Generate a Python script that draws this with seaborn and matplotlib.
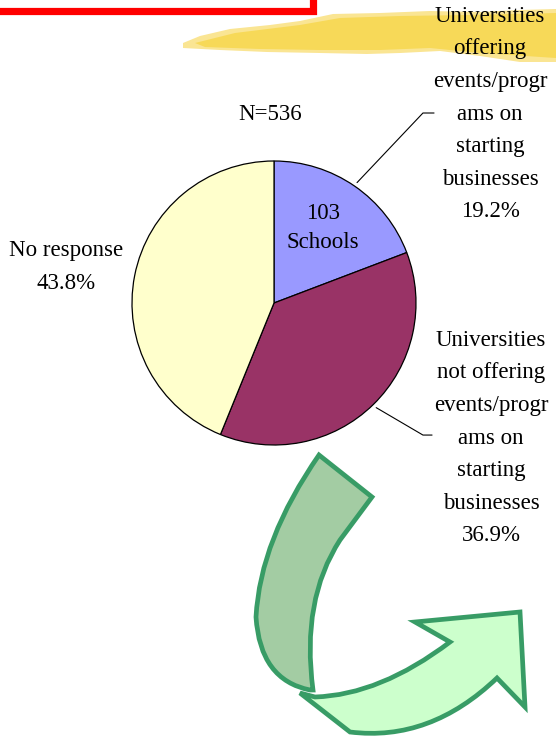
import numpy as np
import matplotlib
matplotlib.use("Agg")
import matplotlib.pyplot as plt
from matplotlib.path import Path
from matplotlib.patches import PathPatch, Polygon, Rectangle
import seaborn as sns

# Survey shares (%), clockwise from 12 o'clock
shares = [19.2, 36.9, 43.8]
share_colors = ["#9999FF", "#993366", "#FFFFCC"]
slice_labels = [
    "Universities\noffering\nevents/progr\nams on\nstarting\nbusinesses\n19.2%",
    "Universities\nnot offering\nevents/progr\nams on\nstarting\nbusinesses\n36.9%",
    "No response\n43.8%",
]
inner_note = "103\nSchools"
sample_note = "N=536"

sns.set_theme(style="white")
plt.rcParams["font.family"] = ["Liberation Serif", "DejaVu Serif"]

W, H = 556, 737
fig = plt.figure(figsize=(W / 100, H / 100), dpi=100)
fig.patch.set_facecolor("white")

# pie axes: centre (274, 303) px, radius 142 px
cx, cy, r = 274, 303, 142
ax = fig.add_axes([(cx - r) / W, (H - cy - r) / H, 2 * r / W, 2 * r / H])
wedges, _ = ax.pie(shares, colors=share_colors, startangle=90, counterclock=False,
                   wedgeprops=dict(edgecolor="black", linewidth=0.9))
ax.set_xlim(-1, 1)
ax.set_ylim(-1, 1)
ax.set_aspect("equal")
ax.axis("off")
ax.set_zorder(1)

# leader lines from the middle of the two right-hand wedges
elbows = {0: ((1.049, 1.338), (1.127, 1.338)), 1: ((1.049, -0.930), (1.113, -0.930))}
for i, (elbow, end) in elbows.items():
    w = wedges[i]
    mid = np.deg2rad((w.theta1 + w.theta2) / 2)
    start = (1.03 * np.cos(mid), 1.03 * np.sin(mid))
    ax.plot([start[0], elbow[0], end[0]], [start[1], elbow[1], end[1]],
            color="black", lw=0.8, clip_on=False)

# overlay in pixel coordinates for labels and decorations (transparent)
ov = fig.add_axes([0, 0, 1, 1])
ov.set_xlim(0, W)
ov.set_ylim(H, 0)
ov.axis("off")
ov.set_zorder(2)

# red title frame edge
ov.add_patch(Rectangle((-20, -40), 332.5, 50.5, fill=False, edgecolor="#FF0000", lw=5.2))

# yellow brush stroke
brush_top = [(183, 43), (200, 36), (230, 29), (270, 25), (300, 21), (333, 14), (380, 13),
             (430, 11), (480, 12), (520, 10), (556, 9)]
brush_bot = [(556, 62), (520, 62), (480, 56), (440, 51), (400, 53), (367, 54), (320, 53),
             (267, 52), (220, 50), (183, 48)]
ov.add_patch(Polygon(brush_top + brush_bot, closed=True, facecolor="#FAE593",
                     edgecolor="none"))
inner_top = [(195, 43), (235, 33), (300, 25), (340, 18), (400, 16), (470, 15), (556, 13)]
inner_bot = [(556, 58), (480, 53), (430, 48), (380, 50), (320, 50), (260, 49), (205, 47)]
ov.add_patch(Polygon(inner_top + inner_bot, closed=True, facecolor="#F7D958",
                     edgecolor="none"))

# green curved arrow: sweep first, then the tail on top
green_edge = "#389C66"
M, L, C3, CL = Path.MOVETO, Path.LINETO, Path.CURVE3, Path.CLOSEPOLY
sweep = Path([(300, 693), (350, 732), (430, 742), (497, 678), (525, 707), (520, 612),
              (415, 622), (450, 642), (380, 695), (315, 697), (300, 693)],
             [M, L, C3, C3, L, L, L, L, C3, C3, CL])
ov.add_patch(PathPatch(sweep, facecolor="#CCFFCC", edgecolor=green_edge, lw=3.4,
                       joinstyle="miter"))
tail = Path([(319, 455), (260, 540), (256, 617), (260, 680), (310, 690), (313, 690),
             (301, 600), (340, 540), (372, 497), (319, 455)],
            [M, C3, C3, C3, C3, L, C3, C3, L, CL])
ov.add_patch(PathPatch(tail, facecolor="#A3CCA3", edgecolor=green_edge, lw=3.4,
                       joinstyle="miter"))

fs = 16.5
ls = 1.72
ov.text(490, 114, slice_labels[0], ha="center", va="center", fontsize=fs,
        linespacing=ls, color="black")
ov.text(491, 438, slice_labels[1], ha="center", va="center", fontsize=fs,
        linespacing=ls, color="black")
ov.text(66, 267, slice_labels[2], ha="center", va="center", fontsize=fs,
        linespacing=ls, color="black")
ov.text(323, 228, inner_note, ha="center", va="center", fontsize=fs,
        linespacing=1.55, color="black")
ov.text(270, 114, sample_note, ha="center", va="center", fontsize=fs, color="black")

fig.savefig("out.png", dpi=100)
